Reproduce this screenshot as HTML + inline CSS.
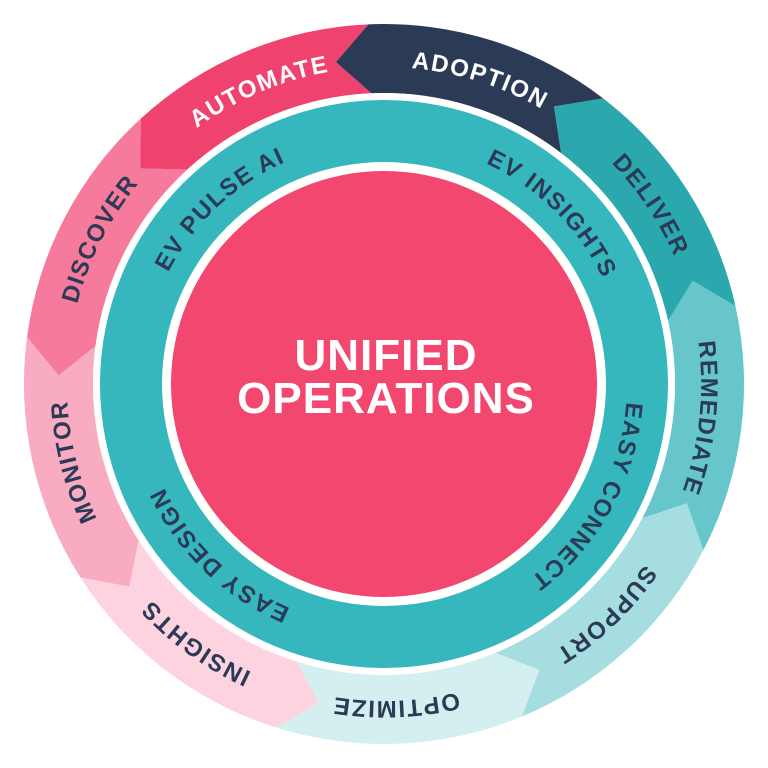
<!DOCTYPE html>
<html><head><meta charset="utf-8"><style>
html,body{margin:0;padding:0;background:#fff;}
svg{display:block;}
text{font-family:"Liberation Sans",sans-serif;font-weight:bold;}
</style></head><body>
<svg width="768" height="768" viewBox="0 0 768 768" xmlns="http://www.w3.org/2000/svg">
<defs>
<path id="po" d="M384,67 A317,317 0 1 1 384,701 A317,317 0 1 1 384,67"/>
<path id="pi" d="M384,141 A243,243 0 1 1 384,627 A243,243 0 1 1 384,141"/>
</defs>
<g>
<path fill="#2b3a55" d="M368.30,24.34 A360,360 0 0 1 603.15,98.39 L554.07,106.47 L561.15,153.13 A291,291 0 0 0 371.31,93.28 L335.89,62.07 Z"/>
<path fill="#2aa8ae" d="M603.15,98.39 A360,360 0 0 1 735.47,306.08 L692.68,280.72 L668.10,321.02 A291,291 0 0 0 561.15,153.13 L554.07,106.47 Z"/>
<path fill="#66c6cb" d="M735.47,306.08 A360,360 0 0 1 703.32,550.23 L686.85,503.30 L642.12,518.37 A291,291 0 0 0 668.10,321.02 L692.68,280.72 Z"/>
<path fill="#a5dde0" d="M703.32,550.23 A360,360 0 0 1 521.76,716.60 L539.32,670.06 L495.36,652.85 A291,291 0 0 0 642.12,518.37 L686.85,503.30 Z"/>
<path fill="#d3eff0" d="M521.76,716.60 A360,360 0 0 1 275.74,727.34 L319.11,702.96 L296.49,661.53 A291,291 0 0 0 495.36,652.85 L539.32,670.06 Z"/>
<path fill="#fcd3df" d="M275.74,727.34 A360,360 0 0 1 80.38,577.43 L129.26,586.63 L138.57,540.35 A291,291 0 0 0 296.49,661.53 L319.11,702.96 Z"/>
<path fill="#f9abc1" d="M80.38,577.43 A360,360 0 0 1 27.08,337.01 L58.61,375.48 L95.49,346.02 A291,291 0 0 0 138.57,540.35 L129.26,586.63 Z"/>
<path fill="#f67a9c" d="M27.08,337.01 A360,360 0 0 1 140.79,118.58 L140.21,168.32 L187.40,169.45 A291,291 0 0 0 95.49,346.02 L58.61,375.48 Z"/>
<path fill="#f0426f" d="M140.79,118.58 A360,360 0 0 1 368.30,24.34 L335.89,62.07 L371.31,93.28 A291,291 0 0 0 187.40,169.45 L140.21,168.32 Z"/>
</g>
<circle cx="384" cy="384" r="291" fill="#fff"/>
<circle cx="384" cy="384" r="284" fill="#36b7be"/>
<circle cx="384" cy="384" r="222" fill="#fff"/>
<circle cx="384" cy="384" r="213" fill="#f2476f"/>
<g font-size="24" letter-spacing="1.5" text-anchor="middle">
<text fill="#fff"><textPath href="#po" startOffset="4.86%">ADOPTION</textPath></text>
<text fill="#2b3a55"><textPath href="#po" startOffset="15.6%">DELIVER</textPath></text>
<text fill="#2b3a55"><textPath href="#po" startOffset="26.7%">REMEDIATE</textPath></text>
<text fill="#2b3a55"><textPath href="#po" startOffset="37.8%">SUPPORT</textPath></text>
<text fill="#2b3a55"><textPath href="#po" startOffset="49.4%">OPTIMIZE</textPath></text>
<text fill="#2b3a55"><textPath href="#po" startOffset="60%">INSIGHTS</textPath></text>
<text fill="#2b3a55"><textPath href="#po" startOffset="71.1%">MONITOR</textPath></text>
<text fill="#2b3a55"><textPath href="#po" startOffset="82.5%">DISCOVER</textPath></text>
<text fill="#fff"><textPath href="#po" startOffset="93.6%">AUTOMATE</textPath></text>
</g>
<g font-size="24" letter-spacing="1.5" text-anchor="middle" fill="#2b3a55">
<text><textPath href="#pi" startOffset="12.4%">EV INSIGHTS</textPath></text>
<text><textPath href="#pi" startOffset="33%">EASY CONNECT</textPath></text>
<text><textPath href="#pi" startOffset="62.2%">EASY DESIGN</textPath></text>
<text><textPath href="#pi" startOffset="88%">EV PULSE AI</textPath></text>
</g>
<g fill="#fff" font-size="44" text-anchor="middle" letter-spacing="1">
<text x="386" y="370">UNIFIED</text>
<text x="386" y="413">OPERATIONS</text>
</g>
</svg>
</body></html>
